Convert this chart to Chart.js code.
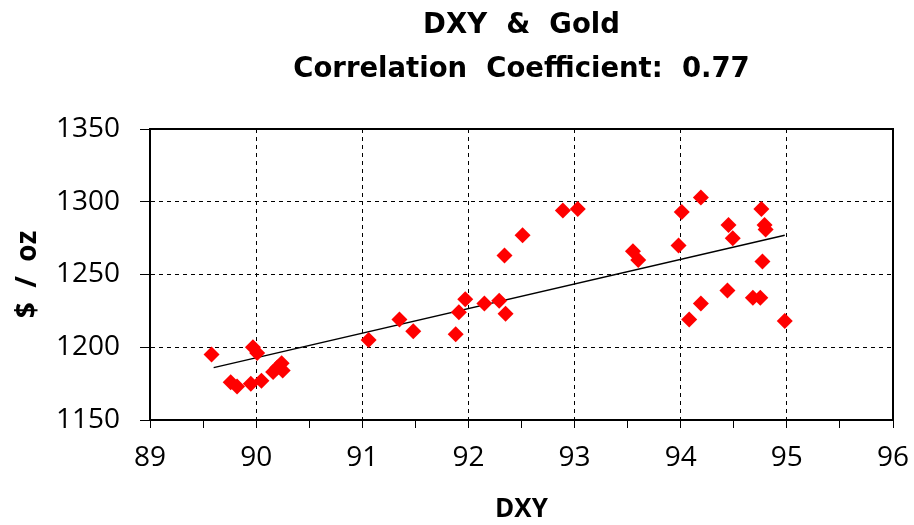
<!DOCTYPE html>
<html>
<head>
<meta charset="utf-8">
<script src="https://cdn.jsdelivr.net/npm/chart.js@4/dist/chart.umd.min.js"></script>
<style>
  html, body { margin: 0; padding: 0; background: #fff; }
  #wrap { width: 914px; height: 525px; }
</style>
</head>
<body>
<div id="wrap"><canvas id="scatterChart" width="914" height="525"></canvas></div>
<script>
// values
const dxy = [89.58, 89.76, 89.82, 89.95, 89.97, 90.01, 90.05, 90.16, 90.20, 90.24, 90.25,
  91.06, 91.35, 91.48, 91.88, 91.91, 91.97, 92.15, 92.29, 92.35, 92.34, 92.51,
  92.89, 93.03, 93.55, 93.60, 93.98, 94.01, 94.19, 94.08, 94.19, 94.44, 94.45,
  94.49, 94.68, 94.75, 94.76, 94.79, 94.80, 94.77, 94.98];
const gold = [1195, 1176, 1173, 1175, 1200, 1196, 1177, 1183, 1186, 1189, 1184,
  1205, 1219, 1211, 1209, 1224, 1233, 1230, 1232, 1223, 1263, 1277,
  1294, 1295, 1266, 1260, 1270, 1293, 1303, 1219, 1230, 1239, 1284,
  1275, 1234, 1234, 1295, 1284, 1281, 1259, 1218];
const trendX = [89.6, 94.98];
const trendY = [1186, 1277];
const titleLines = ["DXY  &  Gold", "Correlation  Coefficient:  0.77"];

const FONT = "'Open Sans', Lato, sans-serif";
const TITLE_FONT = "'DejaVu Sans', 'Open Sans', sans-serif";

const frame = {
  id: "frame",
  beforeDatasetsDraw(chart) {
    const a = chart.chartArea;
    const ctx = chart.ctx;
    ctx.save();
    ctx.strokeStyle = "#000";
    ctx.lineWidth = 2;
    ctx.strokeRect(a.left, a.top, a.right - a.left, a.bottom - a.top);
    ctx.restore();
  }
};

const ctx = document.getElementById("scatterChart").getContext("2d");
new Chart(ctx, {
  type: "scatter",
  data: {
    datasets: [
      {
        label: "Gold",
        data: dxy.map((x, i) => ({ x: x, y: gold[i] })),
        pointStyle: "rectRot",
        pointRadius: 8,
        pointHoverRadius: 8,
        backgroundColor: "#ff0000",
        borderColor: "#ff0000",
        borderWidth: 0,
        order: 1
      },
      {
        type: "line",
        label: "Trend",
        data: trendX.map((x, i) => ({ x: x, y: trendY[i] })),
        borderColor: "#000",
        borderWidth: 1.5,
        pointRadius: 0,
        fill: false,
        order: 2
      }
    ]
  },
  options: {
    responsive: false,
    animation: false,
    layout: { padding: { left: 0, right: 21, top: 0, bottom: 0 } },
    plugins: {
      legend: { display: false },
      tooltip: { enabled: false },
      title: {
        display: true,
        fullSize: false,
        text: titleLines,
        color: "#000",
        font: { family: TITLE_FONT, size: 27.5, weight: "bold", lineHeight: 1.6 },
        padding: { top: 4, bottom: 37 }
      }
    },
    scales: {
      x: {
        type: "linear",
        min: 89,
        max: 96,
        afterFit: (s) => {
          s.height = 105;
          s.paddingLeft = 0;
          s.paddingRight = 0;
        },
        ticks: {
          stepSize: 0.5,
          autoSkip: false,
          maxRotation: 0,
          color: "#000",
          padding: 13,
          font: { family: FONT, size: 28 },
          callback: (v) => (Number.isInteger(v) ? v : "")
        },
        grid: {
          color: (c) => (Number.isInteger(c.tick.value) && c.tick.value > 89 && c.tick.value < 96 ? "#000" : "transparent"),
          tickColor: "#000",
          tickLength: 8,
          lineWidth: 1
        },
        border: { display: true, color: "#000", width: 2, dash: [4, 4] },
        title: {
          display: true,
          text: "DXY",
          color: "#000",
          font: { family: FONT, size: 26, weight: "bold" },
          padding: { top: 0, bottom: 0 }
        }
      },
      y: {
        min: 1150,
        max: 1350,
        afterFit: (s) => { s.width = 150; },
        ticks: {
          stepSize: 25,
          color: "#000",
          padding: 20,
          font: { family: FONT, size: 28 },
          callback: (v) => (v % 50 === 0 ? v : "")
        },
        grid: {
          color: (c) => (c.tick.value % 50 === 0 && c.tick.value > 1150 && c.tick.value < 1350 ? "#000" : "transparent"),
          tickColor: "#000",
          tickLength: 10,
          lineWidth: 1
        },
        border: { display: true, color: "#000", width: 2, dash: [4, 4] },
        title: {
          display: true,
          text: "$  /  oz",
          color: "#000",
          font: { family: FONT, size: 28, weight: "bold" },
          padding: { top: 11, bottom: 0 }
        }
      }
    }
  },
  plugins: [frame]
});
</script>
</body>
</html>
